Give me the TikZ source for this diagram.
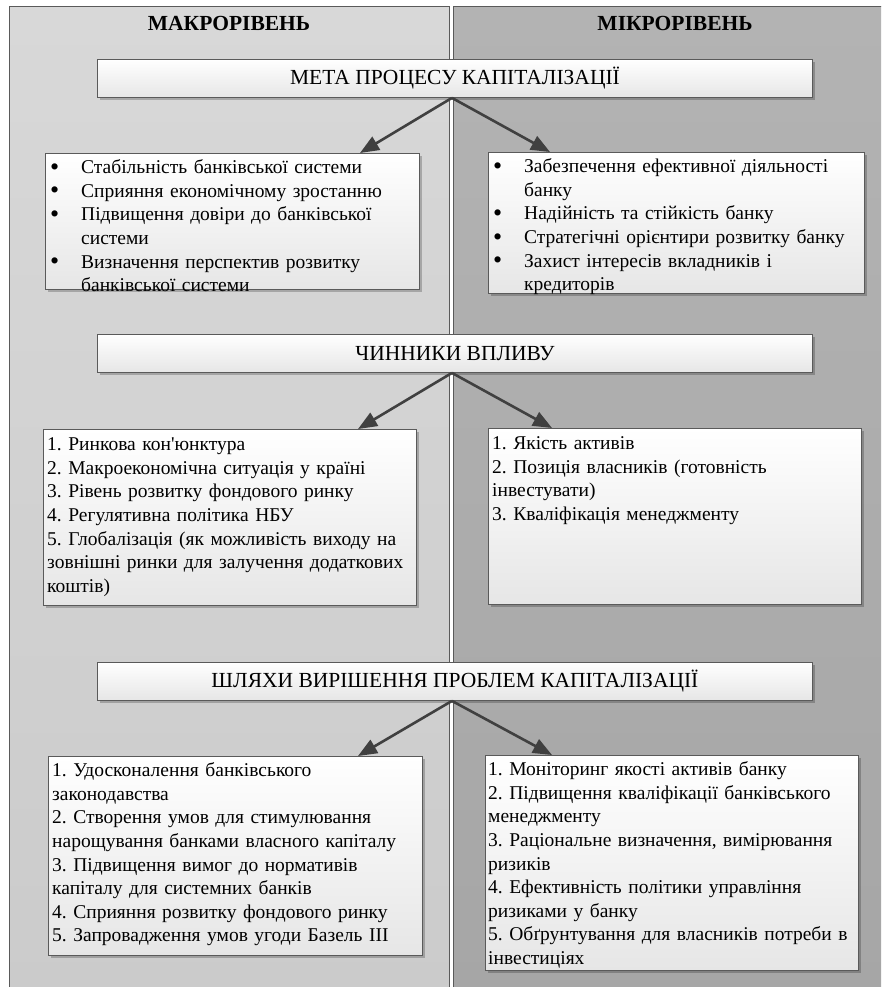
\documentclass[tikz,border=0pt]{standalone}
\usepackage{fontspec}
\setmainfont{Liberation Serif}
\usetikzlibrary{shadows,arrows.meta,calc}
\definecolor{panelLtop}{HTML}{D8D8D8}
\definecolor{panelLbot}{HTML}{CBCBCB}
\definecolor{panelRtop}{HTML}{B3B3B3}
\definecolor{panelRbot}{HTML}{A6A6A6}
\definecolor{edge}{HTML}{5A5A5A}
\definecolor{arrowc}{HTML}{404040}
\definecolor{boxbot}{HTML}{E6E6E6}
\newcommand\bul{\makebox[31pt][l]{\raisebox{-1.5pt}{\fontsize{26}{23.6}\selectfont •}}}
\newcommand\ind{\hspace*{31pt}}
\frenchspacing
\begin{document}
\begin{tikzpicture}[x=1pt,y=-1pt,
  panelL/.style={top color=panelLtop,bottom color=panelLbot,draw=edge,line width=1pt},
  panelR/.style={top color=panelRtop,bottom color=panelRbot,draw=edge,line width=1pt},
  hdr/.style={font=\bfseries\fontsize{21.5}{24}\selectfont,inner sep=0pt},
  shadowed/.style={drop shadow={shadow xshift=2.5pt,shadow yshift=-2.5pt,fill=black,opacity=0.22}},
  titlebox/.style={shadowed,draw=edge,line width=0.9pt,top color=white,bottom color=boxbot,
     anchor=north west,minimum width=715pt,minimum height=38pt,inner sep=0pt,
     font=\fontsize{21.5}{24}\selectfont},
  listbox/.style={shadowed,draw=edge,line width=0.9pt,top color=white,bottom color=boxbot,
     anchor=north west,inner sep=0pt},
  txt/.style={anchor=north west,inner sep=0pt,align=left,text width=420pt,
     font=\fontsize{19.5}{23.6}\selectfont},
  arr/.style={draw=arrowc,line width=2.6pt,-{Triangle[length=19pt,width=15pt]}}
]
\useasboundingbox (0,0) rectangle (881,987);
\clip (0,0) rectangle (881,987);
\fill[white] (0,0) rectangle (881,987);
% panels
\path[panelL] (9.5,7) rectangle (449,1000);
\path[panelR] (453,7) rectangle (900,1000);
% headers
\node[hdr] (hL) at (229,23) {МАКРОРІВЕНЬ};
\node[hdr] (hR) at (675,23) {МІКРОРІВЕНЬ};
% level 1
\node[titlebox] (t1) at (97,59) {МЕТА ПРОЦЕСУ КАПІТАЛІЗАЦІЇ};
\node[listbox,minimum width=374pt,minimum height=136pt] (b1l) at (45,153) {};
\node[listbox,minimum width=376pt,minimum height=141pt] (b1r) at (488,152) {};
\node[txt] (x1l) at (50,157) {\strut\bul Стабільність банківської системи\\
\bul Сприяння економічному зростанню\\
\bul Підвищення довіри до банківської\\
\ind системи\\
\bul Визначення перспектив розвитку\\
\ind банківської системи};
\node[txt] (x1r) at (493,156) {\strut\bul Забезпечення ефективної діяльності\\
\ind банку\\
\bul Надійність та стійкість банку\\
\bul Стратегічні орієнтири розвитку банку\\
\bul Захист інтересів вкладників і\\
\ind кредиторів};
\draw[arr] ($(t1.south)+(-3,0)$) -- ($(b1l.north west)+(315,0)$);
\draw[arr] ($(t1.south)+(-3,0)$) -- ($(b1r.north west)+(62,0)$);
% level 2
\node[titlebox] (t2) at (97,334) {ЧИННИКИ ВПЛИВУ};
\node[listbox,minimum width=373pt,minimum height=176pt] (b2l) at (43,429) {};
\node[listbox,minimum width=373pt,minimum height=176pt] (b2r) at (488,428) {};
\node[txt] (x2l) at (47,434) {\strut 1. Ринкова кон\textquotesingle юнктура\\
2. Макроекономічна ситуація у країні\\
3. Рівень розвитку фондового ринку\\
4. Регулятивна політика НБУ\\
5. Глобалізація (як можливість виходу на\\
зовнішні ринки для залучення додаткових\\
коштів)};
\node[txt] (x2r) at (492,433) {\strut 1. Якість активів\\
2. Позиція власників (готовність\\
інвестувати)\\
3. Кваліфікація менеджменту};
\draw[arr] ($(t2.south)+(-3,0)$) -- ($(b2l.north west)+(315,0)$);
\draw[arr] ($(t2.south)+(-3,0)$) -- ($(b2r.north west)+(64,0)$);
% level 3
\node[titlebox] (t3) at (97,662) {ШЛЯХИ ВИРІШЕННЯ ПРОБЛЕМ КАПІТАЛІЗАЦІЇ};
\node[listbox,minimum width=374pt,minimum height=199pt] (b3l) at (48,756) {};
\node[listbox,minimum width=373pt,minimum height=215pt] (b3r) at (485,755) {};
\node[txt] (x3l) at (52,760) {\strut 1. Удосконалення банківського\\
законодавства\\
2. Створення умов для стимулювання\\
нарощування банками власного капіталу\\
3. Підвищення вимог до нормативів\\
капіталу для системних банків\\
4. Сприяння розвитку фондового ринку\\
5. Запровадження умов угоди Базель III};
\node[txt] (x3r) at (488,759) {\strut 1. Моніторинг якості активів банку\\
2. Підвищення кваліфікації банківського\\
менеджменту\\
3. Раціональне визначення, вимірювання\\
ризиків\\
4. Ефективність політики управління\\
ризиками у банку\\
5. Обґрунтування для власників потреби в\\
інвестиціях};
\draw[arr] ($(t3.south)+(-3,0)$) -- ($(b3l.north west)+(310,0)$);
\draw[arr] ($(t3.south)+(-3,0)$) -- ($(b3r.north west)+(67,0)$);
\end{tikzpicture}
\end{document}
